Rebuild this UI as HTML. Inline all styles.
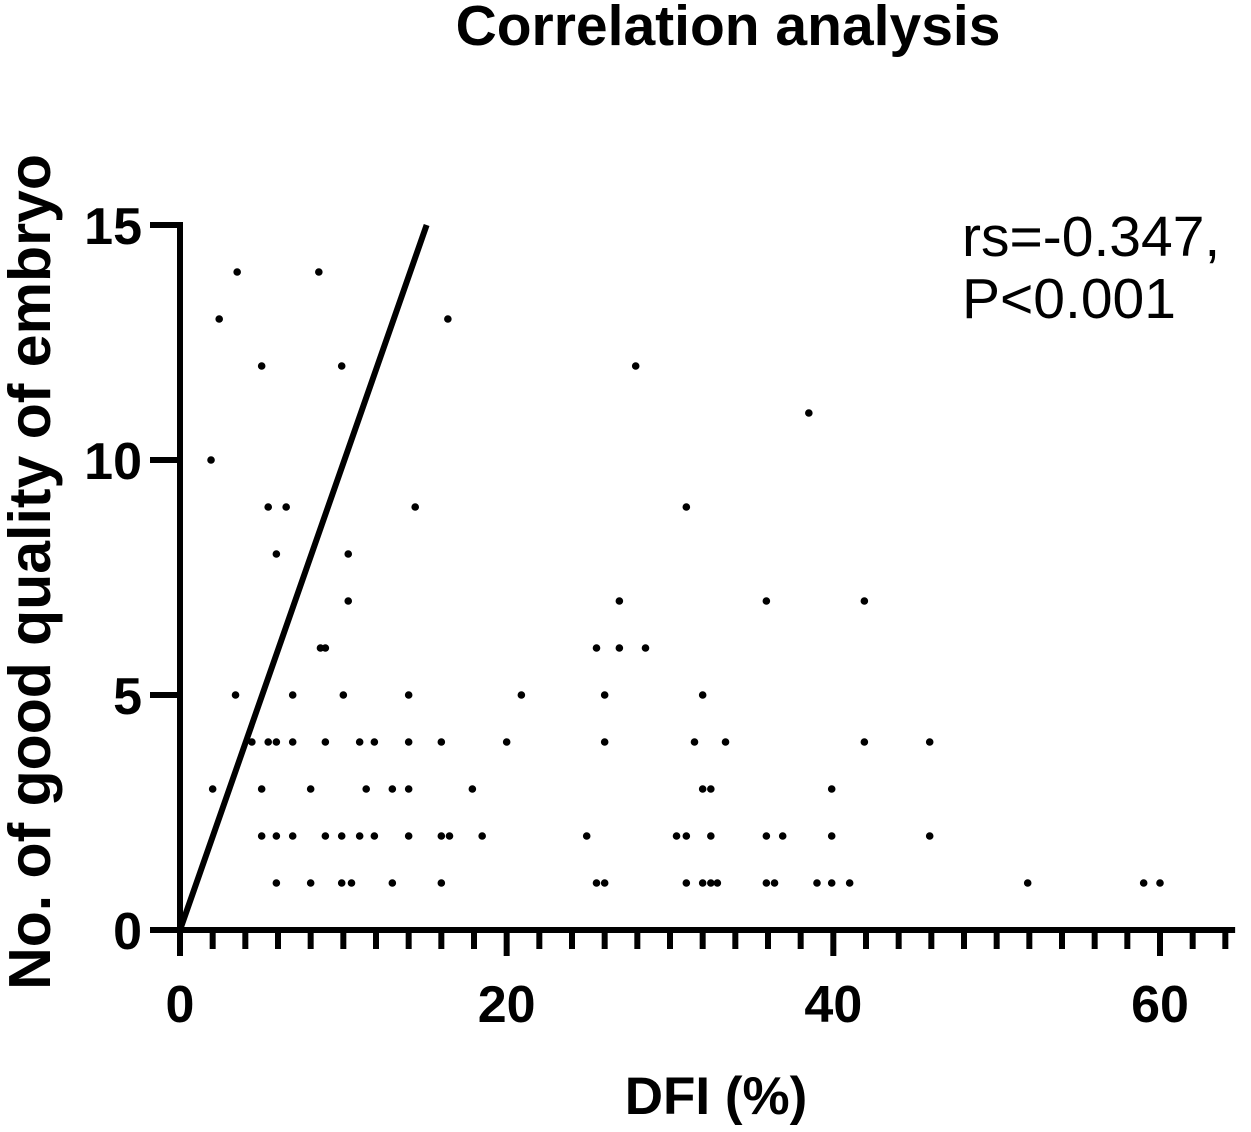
<!DOCTYPE html>
<html><head><meta charset="utf-8"><style>
html,body{margin:0;padding:0;background:#fff;}
svg{display:block;font-family:"Liberation Sans",Arial,sans-serif;}
</style></head><body>
<svg id="chart" width="1251" height="1132" viewBox="0 0 1251 1132">
<text x="728" y="45" text-anchor="middle" font-size="57" font-weight="bold">Correlation analysis</text>
<text transform="translate(50,572) rotate(-90)" text-anchor="middle" font-size="59" font-weight="bold">No. of good quality of embryo</text>
<text x="716" y="1114" text-anchor="middle" font-size="53" font-weight="bold">DFI (%)</text>
<text x="962" y="256" font-size="57">rs=-0.347,</text>
<text x="962" y="318" font-size="57">P&lt;0.001</text>
<g id="axes"></g>
<g id="marks"></g>
</svg>
<script>
const xs = [3.5,8.5,2.4,16.4,5,9.9,27.9,38.5,1.9,5.4,6.5,14.4,31,5.9,10.3,10.3,26.9,35.9,41.9,8.6,8.9,25.5,26.9,28.5,
3.4,6.9,10,14,20.9,26,32,
4.4,5.4,5.9,6.9,8.9,11,11.9,14,16,20,26,31.5,33.4,41.9,45.9,
2,5,8,11.4,13,14,17.9,32,32.5,39.9,
5,5.9,6.9,8.9,9.9,11,11.9,14,16,16.5,18.5,24.9,30.4,31,32.5,35.9,36.9,39.9,45.9,
5.9,8,9.9,10.5,13,16,25.5,26,31,32,32.5,32.9,35.9,36.4,39,39.9,41,51.9,59,60];
const ys = [14,14,13,13,12,12,12,11,10,9,9,9,9,8,8,7,7,7,7,6,6,6,6,6,
5,5,5,5,5,5,5,
4,4,4,4,4,4,4,4,4,4,4,4,4,4,4,
3,3,3,3,3,3,3,3,3,3,
2,2,2,2,2,2,2,2,2,2,2,2,2,2,2,2,2,2,2,
1,1,1,1,1,1,1,1,1,1,1,1,1,1,1,1,1,1,1,1];
const lineX = [0,15.1];
const lineY = [0,15];
const xTicks = [0,20,40,60];
const yTicks = [0,5,10,15];
const X0=180,X1=1160,XMAX=60,Y0=930,Y1=225,YMAX=15;
const sx=v=>X0+(X1-X0)*v/XMAX;
const sy=v=>Y0-(Y0-Y1)*v/YMAX;
const NS="http://www.w3.org/2000/svg";
const axes=document.getElementById('axes'), marks=document.getElementById('marks');
function mk(tag,attrs,parent){const e=document.createElementNS(NS,tag);for(const k in attrs)e.setAttribute(k,attrs[k]);parent.appendChild(e);return e;}
let e=mk('line',{x1:sx(0),y1:sy(15)-3,x2:sx(0),y2:Y0+3,stroke:'#000','stroke-width':6},axes);


e=mk('line',{x1:sx(0)-3,y1:Y0,x2:sx(64.6),y2:Y0,stroke:'#000','stroke-width':6},axes);


for(let v=0;v<=64;v+=2){
  const major=v%20===0;
  e=mk('line',{x1:sx(v),y1:Y0,x2:sx(v),y2:Y0+(major?26:19),stroke:'#000','stroke-width':6},axes);
  
  
}
xTicks.forEach(v=>{
  e=mk('text',{x:sx(v),y:1022,'text-anchor':'middle','font-size':52,'font-weight':'bold'},axes);
  e.textContent=v;
  
  
});
yTicks.forEach(v=>{
  e=mk('line',{x1:150,y1:sy(v),x2:sx(0),y2:sy(v),stroke:'#000','stroke-width':6},axes);
  
  
  e=mk('text',{x:142,y:sy(v)+19,'text-anchor':'end','font-size':52,'font-weight':'bold'},axes);
  e.textContent=v;
  
  
});
e=mk('line',{x1:sx(lineX[0]),y1:sy(lineY[0]),x2:sx(lineX[1]),y2:sy(lineY[1]),stroke:'#000','stroke-width':6},marks);


xs.forEach((x,i)=>{
  e=mk('circle',{cx:sx(x),cy:sy(ys[i]),r:3.8,fill:'#000'},marks);
  
  
});
</script>
</body></html>
